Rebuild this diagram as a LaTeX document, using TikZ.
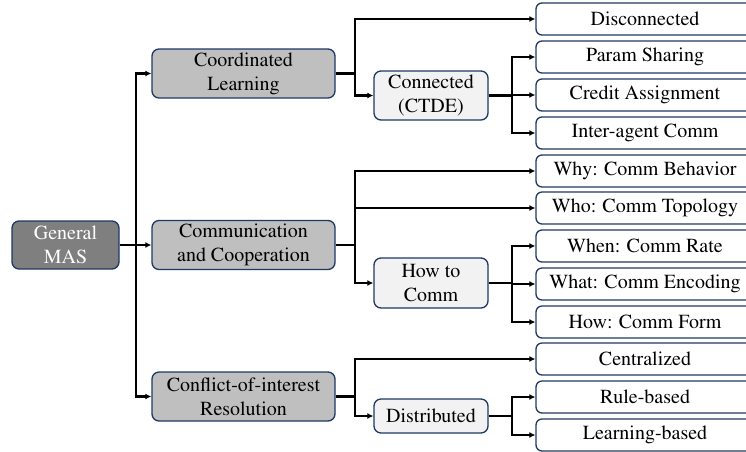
\documentclass[tikz,border=0pt]{standalone}
\usepackage[T1]{fontenc}
\usepackage{times}
\usetikzlibrary{arrows.meta,positioning,calc}
\definecolor{boxnavy}{RGB}{31,56,100}
\definecolor{rootgray}{RGB}{127,127,127}
\definecolor{midgray}{RGB}{191,191,191}
\definecolor{lightgray}{RGB}{242,242,242}

\begin{document}
\begin{tikzpicture}[x=1pt, y=-1pt,
    box/.style={draw=boxnavy, line width=1.3pt, rounded corners=7pt, align=center, inner sep=0pt, font=\fontsize{20}{24}\selectfont},
    rootbox/.style={box, fill=rootgray, text=white, minimum width=107pt, minimum height=48pt},
    mainbox/.style={box, fill=midgray, minimum width=183pt, minimum height=49pt},
    subbox/.style={box, fill=lightgray, minimum width=114pt},
    leafbox/.style={box, fill=white, rounded corners=6pt, minimum width=218pt, minimum height=32pt},
    link/.style={line width=2.2pt, -{Latex[length=6pt,width=6pt]}}]
    \clip (0,0) rectangle (746,451);

    % Root
    \node[rootbox] (root) at (65.5,245) {General\\MAS};

    % First level
    \node[mainbox] (coord) at (243.5,73.5) {Coordinated\\Learning};
    \node[mainbox] (comm) at (243.5,245) {Communication\\and Cooperation};
    \node[mainbox] (conflict) at (243.5,396.5) {Conflict-of-interest\\Resolution};

    % Second level
    \node[subbox, minimum height=49pt] (ctde) at (431,95.5) {Connected\\(CTDE)};
    \node[subbox, minimum height=50pt] (howto) at (431,283) {How to\\Comm};
    \node[subbox, minimum height=34pt] (distrib) at (431,416) {Distributed};

    % Leaves
    \foreach \n/\t/\y in {disc/Disconnected/19, param/Param Sharing/57, credit/Credit Assignment/95,
        inter/Inter-agent Comm/133, why/Why: Comm Behavior/171, who/Who: Comm Topology/208,
        when/When: Comm Rate/246, what/What: Comm Encoding/284, howform/How: Comm Form/322,
        central/Centralized/359, rule/Rule-based/397, learn/Learning-based/435}
        \node[leafbox] (\n) at (645,\y) {\t};

    % Root to first level
    \draw[link] (root.east) -- (comm.west);
    \draw[link] (root.east) -- ++(16,0) |- (coord.west);
    \draw[link] (root.east) -- ++(16,0) |- (conflict.west);

    % Coordinated learning
    \draw[link] (coord.east) -- ++(19.5,0) |- (disc.west);
    \draw[link] (coord.east) -- ++(19.5,0) |- (ctde.west);
    \foreach \n in {param,credit,inter}
        \draw[link] (ctde.east) -- ++(23,0) |- (\n.west);

    % Communication
    \foreach \n in {why,who}
        \draw[link] (comm.east) -- ++(19.5,0) |- (\n.west);
    \draw[link] (comm.east) -- ++(19.5,0) |- (howto.west);
    \foreach \n in {when,what,howform}
        \draw[link] (howto.east) -- ++(23,0) |- (\n.west);

    % Conflict resolution
    \draw[link] (conflict.east) -- ++(19.5,0) |- (central.west);
    \draw[link] (conflict.east) -- ++(19.5,0) |- (distrib.west);
    \foreach \n in {rule,learn}
        \draw[link] (distrib.east) -- ++(23,0) |- (\n.west);
\end{tikzpicture}
\end{document}
